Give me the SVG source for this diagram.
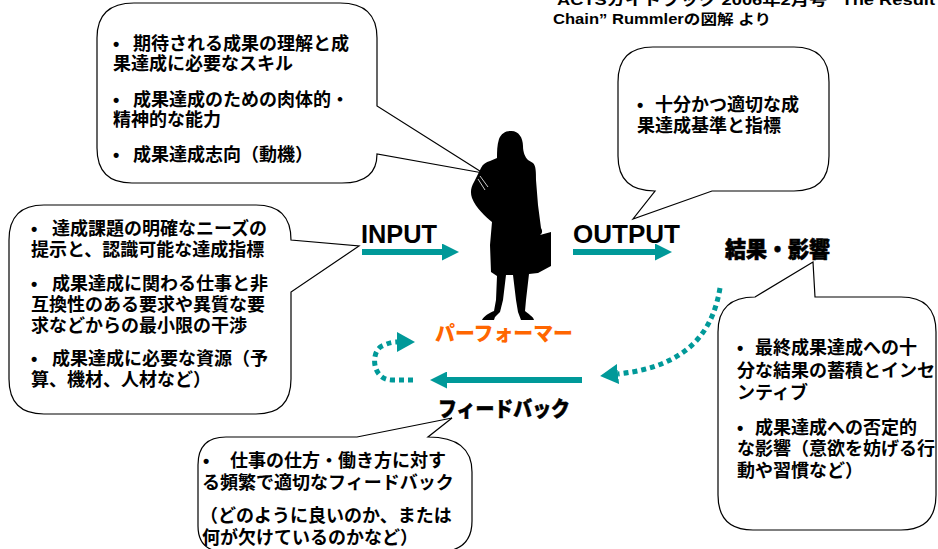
<svg xmlns="http://www.w3.org/2000/svg" width="938" height="549" viewBox="0 0 938 549">
  <defs>
    <style>
      .callout { fill: #ffffff; stroke: #000000; stroke-width: 1.2; stroke-linejoin: miter; }
      .jp { font-family: "Liberation Sans", "Noto Sans CJK JP", "Noto Sans CJK SC", sans-serif; font-weight: 700; font-size: 18px; fill: #000000; }
      .latin { font-family: "Liberation Sans", Arial, "Noto Sans CJK JP", sans-serif; font-weight: 700; fill: #000000; }
      .flow { fill: none; stroke: #009999; stroke-width: 6; }
      .dots { fill: none; stroke: #009999; stroke-width: 5; stroke-dasharray: 5 4; }
      .label { font-family: "Liberation Sans", "Noto Sans CJK JP", sans-serif; font-weight: 900; fill: #000000; }
    </style>
    <marker id="head" viewBox="0 0 17 17" refX="8" refY="8.5" markerWidth="17" markerHeight="17" markerUnits="userSpaceOnUse" orient="auto">
      <path d="M0,0 L17,8.5 L0,17 Z" fill="#009999"/>
    </marker>
    <marker id="dotHead" viewBox="0 0 18 20" refX="0" refY="10" markerWidth="18" markerHeight="20" markerUnits="userSpaceOnUse" orient="auto">
      <path d="M0,0 L18,10 L0,20 Z" fill="#009999"/>
    </marker>
  </defs>

  <rect width="938" height="549" fill="#ffffff"/>

  <!-- source note (top line runs off the top edge) -->
  <g id="source-note">
    <text class="latin" x="557" y="5" font-size="14" textLength="378" lengthAdjust="spacingAndGlyphs">ACTSガイドブック 2006年2月号 ”The Result</text>
    <text class="latin" x="553" y="24" font-size="14" textLength="218" lengthAdjust="spacingAndGlyphs">Chain” Rummlerの図解  より</text>
  </g>

  <!-- callout: capabilities of the performer -->
  <g id="callout-skills">
    <path class="callout" d="M134,3 H340 Q377,3 377,38 V106 L483,173 L377,154 Q377,183 342,183 H132 Q97,183 97,148 V38 Q97,3 134,3 Z"/>
    <text class="jp" y="50"><tspan x="113">•</tspan><tspan x="133">期待される成果の理解と成</tspan><tspan x="113" y="70">果達成に必要なスキル</tspan></text>
    <text class="jp" y="106"><tspan x="113">•</tspan><tspan x="133">成果達成のための肉体的・</tspan><tspan x="113" y="126">精神的な能力</tspan></text>
    <text class="jp" y="161"><tspan x="113">•</tspan><tspan x="133">成果達成志向（動機）</tspan></text>
  </g>

  <!-- callout: output criteria -->
  <g id="callout-criteria">
    <path class="callout" d="M653,47 H794 Q829,47 829,82 V156 Q829,191 794,191 H712 L633,219 L655,191 Q618,191 618,156 V82 Q618,47 653,47 Z"/>
    <text class="jp" y="111"><tspan x="637">•</tspan><tspan x="655">十分かつ適切な成</tspan><tspan x="637" y="132">果達成基準と指標</tspan></text>
  </g>

  <!-- callout: input conditions -->
  <g id="callout-input">
    <path class="callout" d="M44,205 H256 Q291,205 291,240 L359,246 L291,292 V379 Q291,414 256,414 H44 Q9,414 9,379 V240 Q9,205 44,205 Z"/>
    <text class="jp" y="235"><tspan x="31">•</tspan><tspan x="52">達成課題の明確なニーズの</tspan><tspan x="31" y="256">提示と、認識可能な達成指標</tspan></text>
    <text class="jp" y="290"><tspan x="31">•</tspan><tspan x="52">成果達成に関わる仕事と非</tspan><tspan x="31" y="311">互換性のある要求や異質な要</tspan><tspan x="31" y="332">求などからの最小限の干渉</tspan></text>
    <text class="jp" y="365"><tspan x="31">•</tspan><tspan x="52">成果達成に必要な資源（予</tspan><tspan x="31" y="386">算、機材、人材など）</tspan></text>
  </g>

  <!-- callout: consequences -->
  <g id="callout-results">
    <path class="callout" d="M755,297 L813,262 L815,297 H901 Q936,297 936,332 V495 Q936,530 901,530 H753 Q718,530 718,495 V332 Q718,297 755,297 Z"/>
    <text class="jp" y="354"><tspan x="737">•</tspan><tspan x="755">最終成果達成への十</tspan><tspan x="737" y="377">分な結果の蓄積とインセ</tspan><tspan x="737" y="399">ンティブ</tspan></text>
    <text class="jp" y="434"><tspan x="737">•</tspan><tspan x="755">成果達成への否定的</tspan><tspan x="737" y="455">な影響（意欲を妨げる行</tspan><tspan x="737" y="477">動や習慣など）</tspan></text>
  </g>

  <!-- callout: feedback -->
  <g id="callout-feedback">
    <path class="callout" d="M226,437 H357 L452,418 L428,437 Q472,437 472,472 V521 Q472,552 437,552 H226 Q198,552 198,526 V465 Q198,437 226,437 Z"/>
    <text class="jp" y="467"><tspan x="203">•</tspan><tspan x="230">仕事の仕方・働き方に対す</tspan><tspan x="202" y="489">る頻繁で適切なフィードバック</tspan></text>
    <text class="jp" y="522"><tspan x="200">（どのように良いのか、または</tspan><tspan x="202" y="544">何が欠けているのかなど）</tspan></text>
  </g>

  <!-- performer silhouette -->
  <g id="performer">
    <path fill="#000000" d="M510,131 C518,130 523,137 523,146 C523,152 525,157 528,160 L533,163 C536,166 536,172 536,180 L538,205 L541,228 C543,231 542,234 540,235 L551,232 L551,266 L538,273 L529,274 L526,300 L525,311 C528,314 533,316 534,320 L521,320 L518,312 L516,300 L513,275 L506,275 L503,300 L500,312 L495,317 L494,320 L482,320 C484,316 489,313 494,311 L496,300 L497,276 L491,272 L490,245 L492,222 C485,216 476,208 472,198 C470,192 471,187 474,182 L481,168 C483,164 486,162 490,161 L497,158 C497,152 497,145 499,139 C501,134 505,131 510,131 Z"/>
    <path d="M478,179 L485,190 M480,176 L488,187" stroke="#ffffff" stroke-width="0.8" fill="none"/>
    <text class="label" x="435" y="341" font-size="20" style="fill:#ff6600" textLength="138" lengthAdjust="spacingAndGlyphs">パーフォーマー</text>
  </g>

  <!-- flow labels -->
  <g id="label-input">
    <text class="latin" x="361" y="243" font-size="26" textLength="76" lengthAdjust="spacingAndGlyphs">INPUT</text>
  </g>
  <g id="label-output">
    <text class="latin" x="573" y="243" font-size="26" textLength="107" lengthAdjust="spacingAndGlyphs">OUTPUT</text>
  </g>
  <g id="label-results">
    <text class="label" x="725" y="257" font-size="22" textLength="105" lengthAdjust="spacingAndGlyphs" stroke="#000" stroke-width="0.6">結果・影響</text>
  </g>
  <g id="label-feedback">
    <text class="label" x="438" y="416" font-size="21" textLength="132" lengthAdjust="spacingAndGlyphs" stroke="#000" stroke-width="0.5">フィードバック</text>
  </g>

  <!-- connectors -->
  <g id="connectors">
    <path class="flow" d="M362,252 L450,252" marker-end="url(#head)"/>
    <path class="flow" d="M573,252 L663,252" marker-end="url(#head)"/>
    <path class="flow" d="M582,380 L439,380" marker-end="url(#head)"/>
    <path class="dots" d="M720,288 C713,330 690,366 618,374" marker-end="url(#dotHead)"/>
    <path class="dots" d="M413,380 L392,380 C372,380 370,352 382,346 C388,343 393,342 397,342" marker-end="url(#dotHead)"/>
  </g>
</svg>
